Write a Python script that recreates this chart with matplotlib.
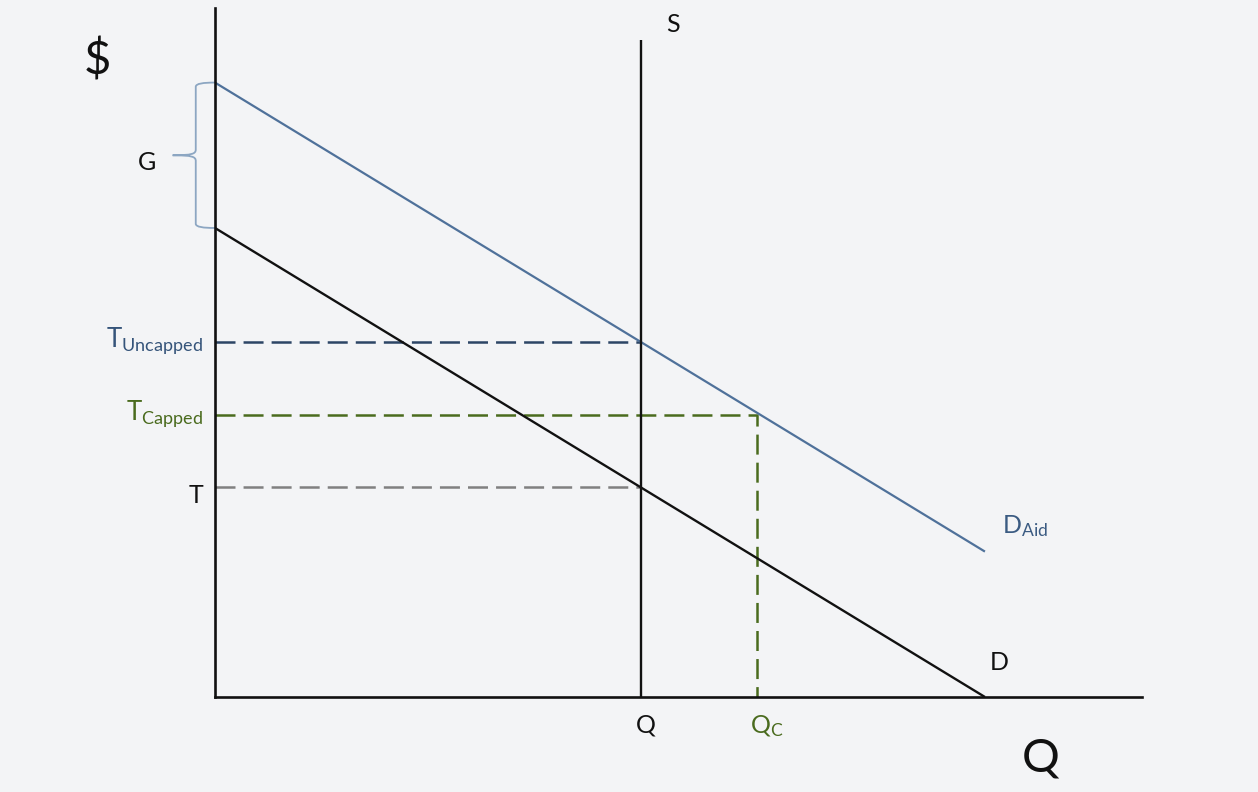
import matplotlib
matplotlib.use("Agg")
import matplotlib.pyplot as plt
from matplotlib.path import Path
from matplotlib.patches import PathPatch

# ---- data (economic units) ----
demand_q = [0, 10]
demand_p = [10, 0]
aid_q = [0, 10]
aid_p = [13.1, 3.1]
supply_q = [5.53, 5.53]
supply_p = [0, 14.0]
q_eq = 5.53
q_capped = 7.04
t_base = 4.47
t_uncapped = 7.57
t_capped = 6.01
x_max = 12.04
y_max = 14.69

W, H = 1258, 792
BG = "#f3f4f6"
BLUE = "#4f719a"
DBLUE = "#2c4565"
GREEN = "#4a6b1e"
GRAY = "#808080"
BLACK = "#111111"

plt.rcParams["font.family"] = ["Lato", "DejaVu Sans"]
plt.rcParams["mathtext.fontset"] = "custom"
plt.rcParams["mathtext.rm"] = "Lato"
plt.rcParams["mathtext.it"] = "Lato:italic"
plt.rcParams["mathtext.bf"] = "Lato:bold"
plt.rcParams["lines.scale_dashes"] = False

fig = plt.figure(figsize=(W / 100, H / 100), dpi=100, facecolor=BG)
ax = fig.add_axes([215 / W, (H - 697) / H, (1142 - 215) / W, (697 - 8) / H])
ax.patch.set_visible(False)
ax.set_xlim(0, x_max)
ax.set_ylim(0, y_max)
for s in ["top", "right"]:
    ax.spines[s].set_visible(False)
for s in ["left", "bottom"]:
    ax.spines[s].set_color(BLACK)
    ax.spines[s].set_linewidth(1.9)
ax.set_xticks([])
ax.set_yticks([])

dash = (14.4, 5.8)
ax.plot([0, q_eq], [t_uncapped, t_uncapped], color=DBLUE, lw=1.8, dashes=dash)
ax.plot([0, q_eq], [t_base, t_base], color=GRAY, lw=1.8, dashes=dash)
ax.plot([0, q_capped, q_capped], [t_capped, t_capped, 0], color=GREEN, lw=1.8, dashes=dash)

ax.plot(demand_q, demand_p, color=BLACK, lw=1.7, solid_capstyle="butt")
ax.plot(aid_q, aid_p, color=BLUE, lw=1.6, solid_capstyle="butt")
ax.plot(supply_q, supply_p, color=BLACK, lw=1.7, solid_capstyle="butt")

# curly brace marking the aid gap G
yt, yb = aid_p[0], demand_p[0]
ym = (yt + yb) / 2
xb, xt = -0.25, -0.55
verts = [
    (0, yt), (xb * 0.6, yt), (xb, yt - 0.02), (xb, yt - 0.09),
    (xb, ym + 0.12),
    (xb, ym + 0.03), (xb - 0.05, ym), (xt, ym),
    (xb - 0.05, ym), (xb, ym - 0.03), (xb, ym - 0.12),
    (xb, yb + 0.09),
    (xb, yb + 0.02), (xb * 0.6, yb), (0, yb),
]
codes = [Path.MOVETO, Path.CURVE4, Path.CURVE4, Path.CURVE4,
         Path.LINETO,
         Path.CURVE4, Path.CURVE4, Path.CURVE4,
         Path.CURVE4, Path.CURVE4, Path.CURVE4,
         Path.LINETO,
         Path.CURVE4, Path.CURVE4, Path.CURVE4]
ax.add_patch(PathPatch(Path(verts, codes), facecolor="none", edgecolor="#8ca6c2",
                       lw=1.3, clip_on=False))


def ptext(px, py, s, **kw):
    fig.text(px / W, 1 - py / H, s, **kw)


ptext(97, 60, r"\$", fontsize=34, ha="center", va="center", color=BLACK)
ptext(147, 162, "G", fontsize=18, ha="center", va="center", color=BLACK)
ptext(673, 25, "S", fontsize=18, ha="center", va="center", color=BLACK)
ptext(203, 347, r"$\mathregular{T_{Uncapped}}$", fontsize=18.5, ha="right", va="baseline", color="#35547a")
ptext(203, 420, r"$\mathregular{T_{Capped}}$", fontsize=18.5, ha="right", va="baseline", color=GREEN)
ptext(203, 503, "T", fontsize=18, ha="right", va="baseline", color=BLACK)
ptext(646, 733, "Q", fontsize=18, ha="center", va="baseline", color=BLACK)
ptext(750, 733, r"$\mathregular{Q_{C}}$", fontsize=18, ha="left", va="baseline", color=GREEN)
ptext(999, 670, "D", fontsize=18, ha="center", va="baseline", color=BLACK)
ptext(1002, 533, r"$\mathregular{D_{Aid}}$", fontsize=18, ha="left", va="baseline", color="#3b5b82")
ptext(1022, 772, "Q", fontsize=34, ha="left", va="baseline", color=BLACK)

fig.savefig("out.png", dpi=100, facecolor=BG)
